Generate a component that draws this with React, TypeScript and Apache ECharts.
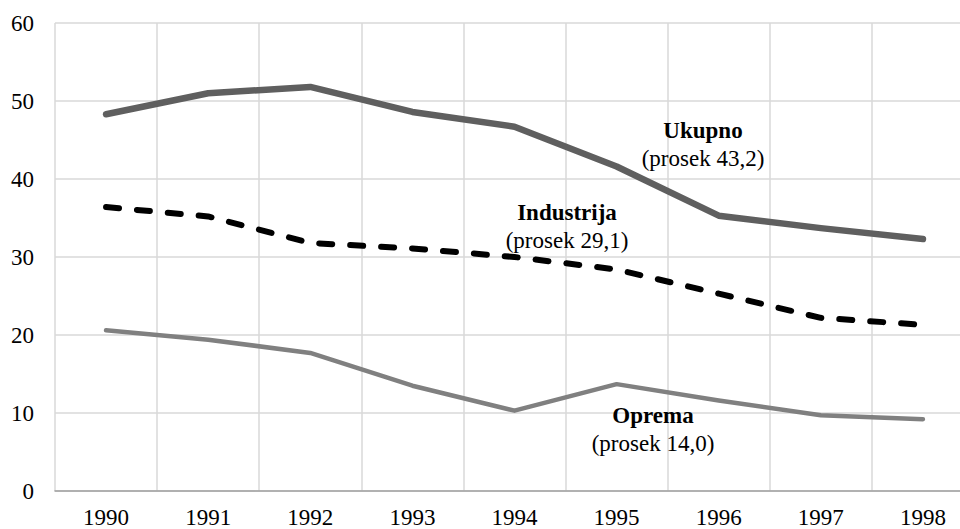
import React, { useEffect, useRef } from "react";
import * as echarts from "echarts";

const years = ["1990", "1991", "1992", "1993", "1994", "1995", "1996", "1997", "1998"];
const ukupno = [48.3, 51.0, 51.8, 48.6, 46.7, 41.6, 35.3, 33.7, 32.3];
const industrija = [36.4, 35.2, 31.8, 31.1, 30.0, 28.4, 25.3, 22.2, 21.3];
const oprema = [20.6, 19.4, 17.7, 13.5, 10.3, 13.7, 11.6, 9.7, 9.2];

const notes = [
  { name: "Ukupno", avg: "(prosek 43,2)", x: 703, y: 130 },
  { name: "Industrija", avg: "(prosek 29,1)", x: 567, y: 212 },
  { name: "Oprema", avg: "(prosek 14,0)", x: 653, y: 415 },
];

const FONT = "'Liberation Serif', 'Times New Roman', serif";
const FS = 23;

export default function App() {
  const ref = useRef<HTMLDivElement>(null);
  useEffect(() => {
    if (!ref.current) return;
    const chart = echarts.init(ref.current, null, { renderer: "svg" });
    const texts: any[] = [];
    notes.forEach((n) => {
      texts.push({
        type: "text",
        x: n.x,
        y: n.y,
        z: 100,
        style: {
          text: n.name,
          fill: "#000",
          font: `bold ${FS}px ${FONT}`,
          textAlign: "center",
          textVerticalAlign: "middle",
        },
      });
      texts.push({
        type: "text",
        x: n.x,
        y: n.y + 28,
        z: 100,
        style: {
          text: n.avg,
          fill: "#000",
          font: `${FS}px ${FONT}`,
          textAlign: "center",
          textVerticalAlign: "middle",
        },
      });
    });
    chart.setOption({
      animation: false,
      backgroundColor: "#ffffff",
      grid: { left: 55, right: 0, top: 23, bottom: 38, containLabel: false },
      xAxis: {
        type: "category",
        data: years,
        boundaryGap: true,
        axisLine: { show: true, lineStyle: { color: "#a0a0a0", width: 1.5 } },
        axisTick: { show: false },
        axisLabel: { color: "#000", fontFamily: FONT, fontSize: FS, margin: 15 },
        splitLine: { show: true, lineStyle: { color: "#d9d9d9", width: 1.5 } },
      },
      yAxis: {
        type: "value",
        min: 0,
        max: 60,
        interval: 10,
        axisLine: { show: false },
        axisTick: { show: false },
        axisLabel: { color: "#000", fontFamily: FONT, fontSize: FS, margin: 21 },
        splitLine: { show: true, lineStyle: { color: "#d9d9d9", width: 1.5 } },
      },
      series: [
        {
          name: "Ukupno",
          type: "line",
          data: ukupno,
          symbol: "none",
          lineStyle: { color: "#5f5f5f", width: 6.5, cap: "round", join: "round" },
        },
        {
          name: "Industrija",
          type: "line",
          data: industrija,
          symbol: "none",
          lineStyle: { color: "#000000", width: 6, type: [13, 18], cap: "round", join: "round" },
        },
        {
          name: "Oprema",
          type: "line",
          data: oprema,
          symbol: "none",
          lineStyle: { color: "#808080", width: 4.5, cap: "round", join: "round" },
        },
      ],
      graphic: texts,
    });
    return () => chart.dispose();
  }, []);
  return (
    <div
      style={{
        position: "fixed",
        left: 0,
        top: 0,
        width: 960,
        height: 529,
        overflow: "hidden",
        background: "#fff",
      }}
    >
      <div ref={ref} style={{ width: 974, height: 529 }} />
    </div>
  );
}
